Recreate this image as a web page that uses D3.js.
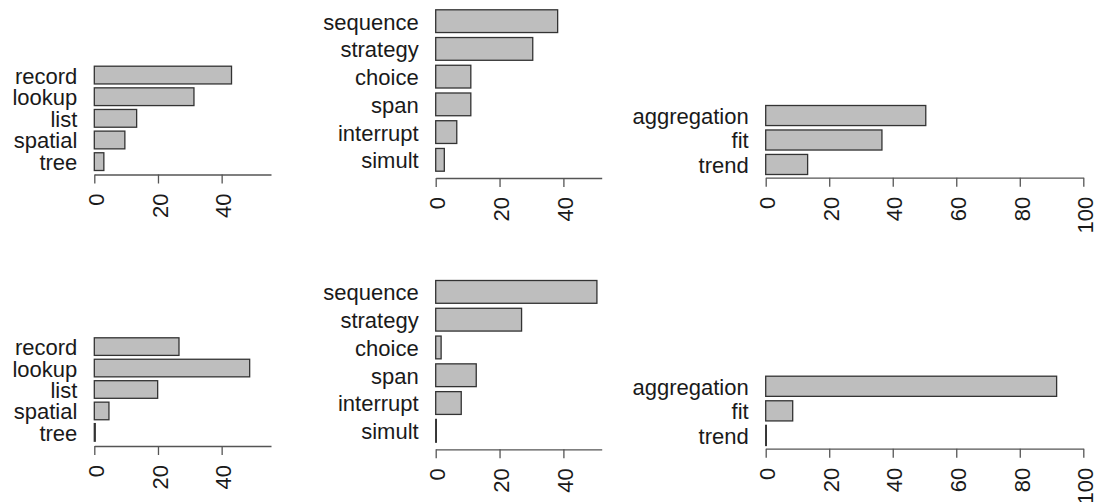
<!DOCTYPE html>
<html>
<head>
<meta charset="utf-8">
<script src="https://cdn.jsdelivr.net/npm/d3@7"></script>
<style>
  html, body { margin: 0; padding: 0; background: #fff; }
  svg text { font-family: "Liberation Sans", Arial, Helvetica, sans-serif; }
</style>
</head>
<body>
<svg id="chart" width="1102" height="502"></svg>
<script>
// ---- data ----
const catsA = ["record", "lookup", "list", "spatial", "tree"];
const catsB = ["sequence", "strategy", "choice", "span", "interrupt", "simult"];
const catsC = ["aggregation", "fit", "trend"];

const valsA1 = [43.1, 31.3, 13.3, 9.6, 3.0];
const valsB1 = [38.2, 30.4, 11.0, 11.0, 6.6, 2.7];
const valsC1 = [50.4, 36.6, 13.2];

const valsA2 = [26.6, 48.8, 19.9, 4.6, 0.3];
const valsB2 = [50.5, 26.9, 1.7, 12.7, 8.0, 0.2];
const valsC2 = [91.6, 8.5, 0.2];

const ticksAB = [0, 20, 40];
const ticksC = [0, 20, 40, 60, 80, 100];
const axisMaxA = 55.5;
const axisMaxB = 52;
const axisMaxC = 100;

// ---- layout ----
const panels = [
  { cats: catsA, vals: valsA1, ticks: ticksAB, max: axisMaxA, xr: [94.3, 271], yr: [66.2, 170.5], axisY: 174.5 },
  { cats: catsB, vals: valsB1, ticks: ticksAB, max: axisMaxB, xr: [435.7, 601.7], yr: [9.8, 171.2], axisY: 178 },
  { cats: catsC, vals: valsC1, ticks: ticksC, max: axisMaxC, xr: [765.7, 1083.3], yr: [105.5, 174.5], axisY: 177.7 },
  { cats: catsA, vals: valsA2, ticks: ticksAB, max: axisMaxA, xr: [94.3, 271], yr: [337.8, 441.2], axisY: 446 },
  { cats: catsB, vals: valsB2, ticks: ticksAB, max: axisMaxB, xr: [435.7, 601.7], yr: [280.5, 442.2], axisY: 449.3 },
  { cats: catsC, vals: valsC2, ticks: ticksC, max: axisMaxC, xr: [765.7, 1083.3], yr: [376.2, 445.5], axisY: 448.7 }
];

const svg = d3.select("#chart");

panels.forEach(p => {
  const x = d3.scaleLinear().domain([0, p.max]).range(p.xr);
  const y = d3.scaleBand().domain(p.cats).range(p.yr).paddingInner(0.18).paddingOuter(0);
  const g = svg.append("g");
  const data = p.cats.map((c, i) => ({ c, v: p.vals[i] }));

  g.selectAll("rect").data(data).join("rect")
    .attr("x", x(0))
    .attr("y", d => y(d.c))
    .attr("width", d => Math.max(0, x(d.v) - x(0)))
    .attr("height", y.bandwidth())
    .attr("fill", "#bebebe")
    .attr("stroke", "#333")
    .attr("stroke-width", 1.3);

  g.selectAll("text.cat").data(data).join("text")
    .attr("class", "cat")
    .attr("x", x(0) - 17)
    .attr("y", d => y(d.c) + y.bandwidth() / 2)
    .attr("dy", "0.385em")
    .attr("text-anchor", "end")
    .attr("font-size", 22)
    .attr("fill", "#1a1a1a")
    .text(d => d.c);

  const ax = g.append("g")
    .attr("transform", `translate(0,${p.axisY})`)
    .call(d3.axisBottom(x).tickValues(p.ticks).tickSize(9).tickSizeOuter(0).tickFormat(d3.format("d")));
  ax.select(".domain").attr("stroke", "#555").attr("stroke-width", 1.3);
  ax.selectAll(".tick line").attr("stroke", "#555").attr("stroke-width", 1.3);
  ax.selectAll(".tick text")
    .attr("transform", "rotate(-90)")
    .attr("x", -19)
    .attr("y", 0)
    .attr("dy", "0.42em")
    .attr("text-anchor", "end")
    .attr("font-size", 22)
    .attr("font-family", "Liberation Sans, Arial, sans-serif")
    .attr("fill", "#1a1a1a");
});
</script>
</body>
</html>
